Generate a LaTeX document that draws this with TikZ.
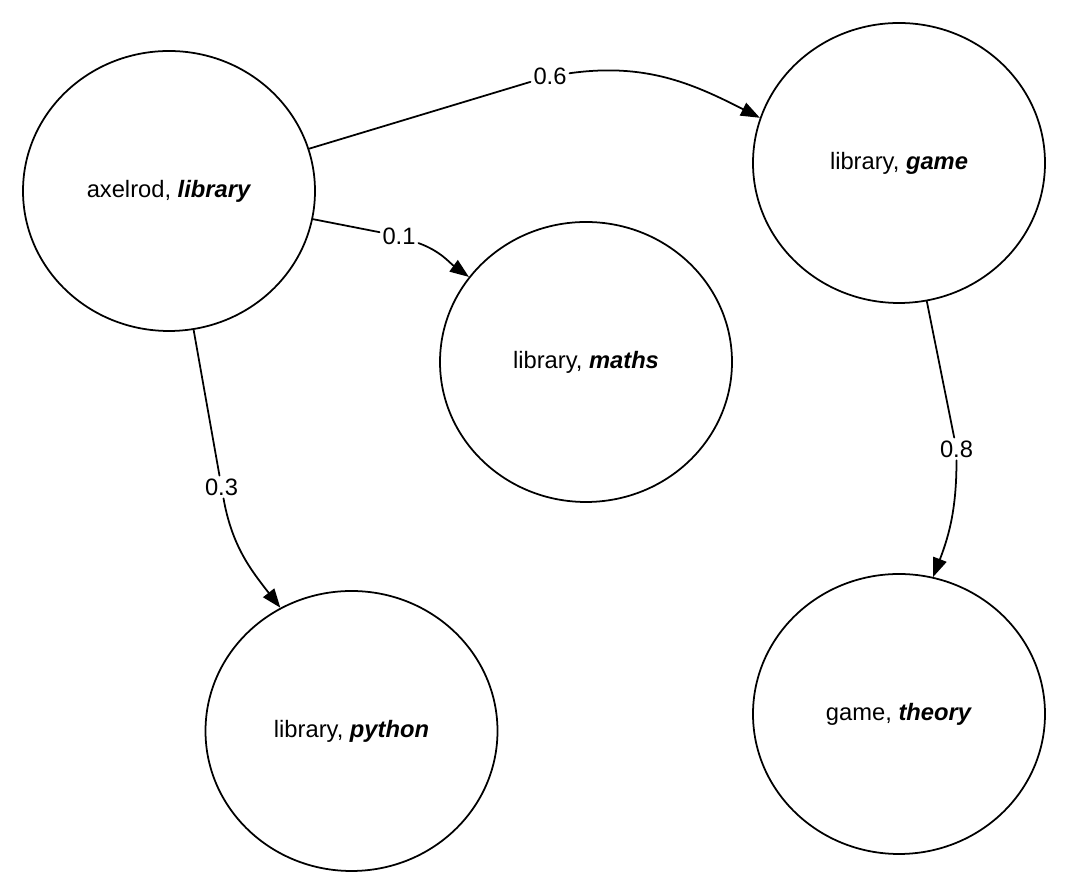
\documentclass[tikz,border=0pt]{standalone}
\usepackage{fontspec}
\setmainfont{Liberation Sans}
\usetikzlibrary{shapes.geometric,arrows.meta}
\begin{document}
\begin{tikzpicture}[font=\fontsize{13.5}{16}\selectfont, line join=round, line cap=round, >={Triangle[length=3.8mm,width=2.8mm]},
	topic/.style={draw, ellipse, line width=1pt, minimum width=5.84cm, minimum height=5.6cm, inner sep=0pt},
	weight/.style={inner sep=1.5pt},
	link/.style={->, line width=1pt}]
	\def\kw#1{\textbf{\textit{#1}}}
	\useasboundingbox (0,0) rectangle (21.32,17.84);
	% topics
	\node[topic] (axel) at (3.38,14.02) {axelrod, \kw{library}};
	\node[topic] (game) at (17.98,14.58) {library, \kw{game}};
	\node[topic] (maths) at (11.72,10.60) {library, \kw{maths}};
	\node[topic] (python) at (7.03,3.22) {library, \kw{python}};
	\node[topic] (theory) at (17.98,3.56) {game, \kw{theory}};
	% weights
	\node[weight] (l06) at (11.00,16.32) {0.6};
	\node[weight] (l01) at (7.98,13.12) {0.1};
	\node[weight] (l03) at (4.43,8.10) {0.3};
	\node[weight] (l08) at (19.13,8.86) {0.8};
	% links
	\draw[link] (axel) -- (l06) to[out=8, in=153] (game.162);
	\draw[link] (axel) -- (l01) to[out=-20, in=144] (maths.144);
	\draw[link] (axel) -- (l03) to[out=-80, in=128] (python.120);
	\draw[link] (game) -- (l08) to[out=-90, in=69] (theory.76);
\end{tikzpicture}
\end{document}
